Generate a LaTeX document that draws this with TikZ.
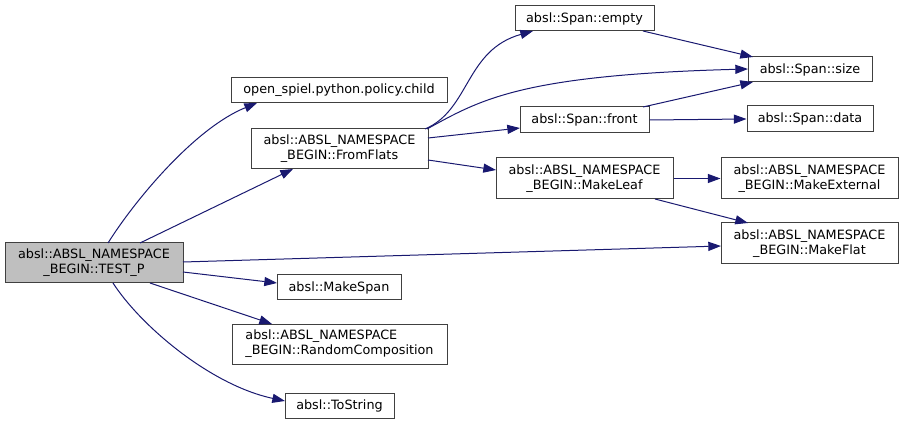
\documentclass[tikz,border=0pt]{standalone}
\usepackage{fontspec}
\setmainfont{DejaVu Sans}
\usetikzlibrary{arrows.meta,calc}
\definecolor{edgecol}{HTML}{191970}
\definecolor{boxline}{HTML}{404040}
\definecolor{cur}{HTML}{BFBFBF}
\tikzset{
  box/.style={draw=boxline, line width=0.75pt, fill=white, rectangle, inner sep=0pt, align=center,
    font=\fontsize{9.6pt}{11.25pt}\selectfont},
  curbox/.style={box, fill=cur},
  edge/.style={draw=edgecol, line width=0.75pt, -{Triangle[length=9.5pt,width=6.8pt,fill=edgecol]}},
}
\begin{document}
\begin{tikzpicture}[x=0.75pt,y=-0.75pt]
\useasboundingbox (0,0) rectangle (904,424);
% nodes
\node[curbox, minimum width=133.5pt, minimum height=30pt] (test) at (94,263) {absl::ABSL\_NAMESPACE\\\_BEGIN::TEST\_P};
\node[box, minimum width=162pt, minimum height=18.75pt] (child) at (339,90.5) {open\_spiel.python.policy.child};
\node[box, minimum width=132.75pt, minimum height=30pt] (fromflats) at (339.5,149) {absl::ABSL\_NAMESPACE\\\_BEGIN::FromFlats};
\node[box, minimum width=93pt, minimum height=18.75pt] (makespan) at (339,287.5) {absl::MakeSpan};
\node[box, align=left, minimum width=161.25pt, minimum height=30pt] (randcomp) at (339.5,344) {absl::ABSL\_NAMESPACE\\\_BEGIN::RandomComposition};
\node[box, minimum width=81.75pt, minimum height=18.75pt] (tostring) at (339.5,405.5) {absl::ToString};
\node[box, minimum width=104.25pt, minimum height=18.75pt] (empty) at (584.5,18.5) {absl::Span::empty};
\node[box, minimum width=96.75pt, minimum height=19.5pt] (front) at (584.5,120) {absl::Span::front};
\node[box, minimum width=132.75pt, minimum height=30.75pt] (makeleaf) at (584.5,178.5) {absl::ABSL\_NAMESPACE\\\_BEGIN::MakeLeaf};
\node[box, minimum width=93pt, minimum height=18.75pt] (size) at (810,69.5) {absl::Span::size};
\node[box, minimum width=94.5pt, minimum height=19.5pt] (data) at (810,119) {absl::Span::data};
\node[box, minimum width=132.75pt, minimum height=30.75pt] (makeext) at (809.5,178.5) {absl::ABSL\_NAMESPACE\\\_BEGIN::MakeExternal};
\node[box, minimum width=132.75pt, minimum height=30.75pt] (makeflat) at (809.5,243.5) {absl::ABSL\_NAMESPACE\\\_BEGIN::MakeFlat};
% edges
\path[edge] ($(test)+(14,-20)$) .. controls (135,200) and (195,128) .. ($(child)+(-82,12.5)$);
\path[edge] ($(test)+(46,-20)$) -- ($(fromflats)+(-46.5,20)$);
\path[edge] ($(test)+(89,-1)$) -- ($(makeflat)+(-88.5,2.5)$);
\path[edge] ($(test)+(89,9)$) -- ($(makespan)+(-62,-4.5)$);
\path[edge] ($(test)+(56,20)$) -- ($(randcomp)+(-67.5,-20)$);
\path[edge] ($(test)+(19,20)$) .. controls (140,325) and (210,385) .. ($(tostring)+(-54.5,-4.5)$);
\path[edge] ($(fromflats)+(85.5,-20)$) .. controls (470,110) and (465,50) .. ($(empty)+(-51.5,12.5)$);
\path[edge] ($(fromflats)+(87.5,-20)$) .. controls (480,100) and (520,75) .. ($(size)+(-62,-0.5)$);
\path[edge] ($(fromflats)+(88.5,-11)$) -- ($(front)+(-64.5,8)$);
\path[edge] ($(fromflats)+(88.5,11)$) -- ($(makeleaf)+(-88.5,-8.5)$);
\path[edge] ($(empty)+(58.5,12.5)$) -- ($(size)+(-57,-12.5)$);
\path[edge] ($(front)+(58.5,-13)$) -- ($(size)+(-57,12.5)$);
\path[edge] (front.east) -- (data.west);
\path[edge] (makeleaf.east) -- (makeext.west);
\path[edge] ($(makeleaf)+(70.5,20.5)$) -- ($(makeflat)+(-61.5,-20.5)$);
\end{tikzpicture}
\end{document}
